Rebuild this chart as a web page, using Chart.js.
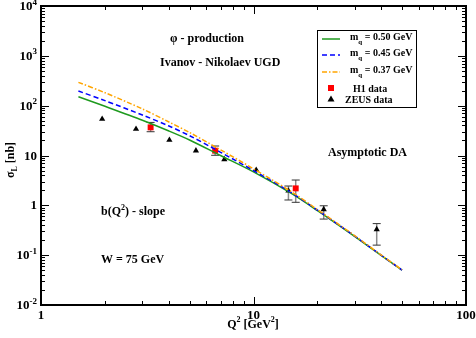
<!DOCTYPE html>
<html>
<head>
<meta charset="utf-8">
<script src="https://cdn.jsdelivr.net/npm/chart.js@4"></script>
<style>
  html, body { margin: 0; padding: 0; background: #fff; }
  canvas { display: block; }
</style>
</head>
<body>
<canvas id="chart" width="476" height="338"></canvas>
<script>
// theory curves, sigma_L [nb] vs Q^2 [GeV^2]
const q2 = [1.5, 2, 3, 4, 5, 7, 10, 15, 20, 30, 40, 50];
const mq050 = [151, 97, 51, 31, 20.5, 10.0, 4.7, 1.75, 0.78, 0.235, 0.098, 0.05];
const mq045 = [197, 126, 65, 39, 25, 11.6, 5.0, 1.82, 0.8, 0.24, 0.099, 0.05];
const mq037 = [294, 182, 86, 47, 29, 13, 5.4, 1.9, 0.82, 0.245, 0.1, 0.051];

// H1 data
const h1Q2 = [3.28, 6.6, 15.8];
const h1Sigma = [36.7, 12.5, 2.19];
const h1Lo = [30.0, 10.1, 1.15];
const h1Hi = [46.1, 15.5, 3.22];

// ZEUS data
const zeusQ2 = [1.94, 2.8, 4.02, 5.36, 7.29, 10.3, 14.6, 21.4, 38.0];
const zeusSigma = [53.9, 34.0, 20.4, 12.5, 8.38, 5.11, 1.96, 0.83, 0.33];
const zeusLo = [null, null, null, null, null, null, 1.28, 0.53, 0.159];
const zeusHi = [null, null, null, null, null, null, 2.44, 0.98, 0.43];

// tick labels
const yTickValues = [0.01, 0.1, 1, 10, 100, 1000, 10000];
const yTickBase = ['10', '10', '1', '10', '10', '10', '10'];
const yTickExp = ['-2', '-1', '', '', '2', '3', '4'];
const xTickValues = [1, 10, 100];
const xTickLabels = ['1', '10', '100'];

const legendNames = ['0.50 GeV', '0.45 GeV', '0.37 GeV', 'H1 data', 'ZEUS data'];

const SERIF = "'Liberation Serif', 'Times New Roman', serif";
const GREEN = '#1e9a1e', BLUE = '#0000ff', ORANGE = '#ffa500';

const pts = (xs, ys) => xs.map((x, i) => ({ x, y: ys[i] }));

function supText(ctx, base, sup, x, y, size, align) {
  ctx.font = `bold ${size}px ${SERIF}`;
  const wb = ctx.measureText(base).width;
  ctx.font = `bold ${Math.round(size * 0.7)}px ${SERIF}`;
  const ws = sup ? ctx.measureText(sup).width : 0;
  let x0 = x;
  if (align === 'right') x0 = x - wb - ws;
  if (align === 'center') x0 = x - (wb + ws) / 2;
  ctx.textAlign = 'left';
  ctx.textBaseline = 'alphabetic';
  ctx.font = `bold ${size}px ${SERIF}`;
  ctx.fillText(base, x0, y);
  if (sup) {
    ctx.font = `bold ${Math.round(size * 0.7)}px ${SERIF}`;
    ctx.fillText(sup, x0 + wb, y - size * 0.42);
  }
}

function drawErrBars(ctx, xs, ys, qs, lo, hi) {
  qs.forEach((q, i) => {
    if (lo[i] == null) return;
    const x = xs.getPixelForValue(q);
    const y1 = ys.getPixelForValue(lo[i]);
    const y2 = ys.getPixelForValue(hi[i]);
    ctx.strokeStyle = '#8a8a8a';
    ctx.lineWidth = 1.5;
    ctx.beginPath();
    ctx.moveTo(x, y1); ctx.lineTo(x, y2);
    ctx.stroke();
    ctx.strokeStyle = '#333';
    ctx.lineWidth = 1;
    ctx.beginPath();
    ctx.moveTo(x - 4, y1); ctx.lineTo(x + 4, y1);
    ctx.moveTo(x - 4, y2); ctx.lineTo(x + 4, y2);
    ctx.stroke();
  });
}

const frame = {
  id: 'frame',
  beforeDatasetsDraw(chart) {
    const { ctx, scales: { x, y } } = chart;
    ctx.save();
    drawErrBars(ctx, x, y, h1Q2, h1Lo, h1Hi);
    drawErrBars(ctx, x, y, zeusQ2, zeusLo, zeusHi);
    ctx.restore();
  },
  afterDraw(chart) {
    const { ctx, chartArea: a, scales: { x, y } } = chart;
    ctx.save();
    ctx.strokeStyle = '#000';
    ctx.fillStyle = '#000';

    // box
    ctx.lineWidth = 2;
    ctx.strokeRect(a.left, a.top, a.right - a.left, a.bottom - a.top);

    // ticks, inside on all four sides
    ctx.lineWidth = 1;
    ctx.beginPath();
    for (let e = -2; e <= 4; e++) {
      for (let m = 1; m <= 9; m++) {
        const v = m * Math.pow(10, e);
        if (v > 10000) break;
        const py = Math.round(y.getPixelForValue(v)) + 0.5;
        const len = m === 1 ? 8 : 4;
        ctx.moveTo(a.left, py); ctx.lineTo(a.left + len, py);
        ctx.moveTo(a.right, py); ctx.lineTo(a.right - len, py);
      }
    }
    for (let e = 0; e <= 2; e++) {
      for (let m = 1; m <= 9; m++) {
        const v = m * Math.pow(10, e);
        if (v > 100) break;
        const px = Math.round(x.getPixelForValue(v)) + 0.5;
        const len = m === 1 ? 8 : 4;
        ctx.moveTo(px, a.bottom); ctx.lineTo(px, a.bottom - len);
        ctx.moveTo(px, a.top); ctx.lineTo(px, a.top + len);
      }
    }
    ctx.stroke();

    // tick labels
    yTickValues.forEach((v, i) => {
      supText(ctx, yTickBase[i], yTickExp[i], a.left - 4, y.getPixelForValue(v) + 4, 13, 'right');
    });
    ctx.font = `bold 13px ${SERIF}`;
    ctx.textAlign = 'center';
    ctx.textBaseline = 'top';
    xTickValues.forEach((v, i) => {
      ctx.fillText(xTickLabels[i], x.getPixelForValue(v), a.bottom + 4);
    });

    // axis titles
    ctx.textBaseline = 'alphabetic';
    ctx.font = `bold 12px ${SERIF}`;
    const w1 = ctx.measureText('Q').width;
    const rest = ' [GeV', w2 = ctx.measureText(rest).width;
    ctx.font = `bold 8px ${SERIF}`;
    const ws = ctx.measureText('2').width;
    let tx = 253 - (w1 + ws + w2 + ws + ctx.measureText(']').width * 1.5) / 2;
    ctx.textAlign = 'left';
    ctx.font = `bold 12px ${SERIF}`;
    ctx.fillText('Q', tx, 328); tx += w1;
    ctx.font = `bold 8px ${SERIF}`;
    ctx.fillText('2', tx, 322); tx += ws;
    ctx.font = `bold 12px ${SERIF}`;
    ctx.fillText(rest, tx, 328); tx += w2;
    ctx.font = `bold 8px ${SERIF}`;
    ctx.fillText('2', tx, 322); tx += ws;
    ctx.font = `bold 12px ${SERIF}`;
    ctx.fillText(']', tx, 328);

    ctx.save();
    ctx.translate(14, 160);
    ctx.rotate(-Math.PI / 2);
    ctx.font = `bold 12px ${SERIF}`;
    const wsig = ctx.measureText('σ').width;
    ctx.font = `bold 8px ${SERIF}`;
    const wL = ctx.measureText('L').width;
    ctx.font = `bold 12px ${SERIF}`;
    const wnb = ctx.measureText(' [nb]').width;
    let sx = -(wsig + wL + wnb) / 2;
    ctx.fillText('σ', sx, 0); sx += wsig;
    ctx.font = `bold 8px ${SERIF}`;
    ctx.fillText('L', sx, 3); sx += wL;
    ctx.font = `bold 12px ${SERIF}`;
    ctx.fillText(' [nb]', sx, 0);
    ctx.restore();

    // annotations
    ctx.font = `bold 12px ${SERIF}`;
    ctx.textAlign = 'left';
    ctx.fillText('φ - production', 170, 42);
    ctx.fillText('Ivanov - Nikolaev UGD', 160, 66);
    ctx.fillText('Asymptotic DA', 328, 156);
    supText(ctx, 'b(Q', '2', 101, 215, 12, 'left');
    ctx.font = `bold 12px ${SERIF}`;
    const wbq = ctx.measureText('b(Q').width;
    ctx.font = `bold 8px ${SERIF}`;
    const w2s = ctx.measureText('2').width;
    ctx.font = `bold 12px ${SERIF}`;
    ctx.fillText(') - slope', 101 + wbq + w2s, 215);
    ctx.fillText('W = 75 GeV', 101, 263);

    // legend
    ctx.fillStyle = '#fff';
    ctx.fillRect(317, 30, 99, 77);
    ctx.lineWidth = 1;
    ctx.strokeStyle = '#000';
    ctx.strokeRect(317.5, 30.5, 99, 77);
    const rows = [39, 55, 72, 88, 99];
    const lineCols = [GREEN, BLUE, ORANGE];
    const dashes = [[], [5, 3], [5, 2, 1.5, 2]];
    for (let i = 0; i < 3; i++) {
      ctx.strokeStyle = lineCols[i];
      ctx.lineWidth = 1.5;
      ctx.setLineDash(dashes[i]);
      ctx.beginPath();
      ctx.moveTo(322, rows[i]); ctx.lineTo(340, rows[i]);
      ctx.stroke();
      ctx.setLineDash([]);
      ctx.fillStyle = '#000';
      ctx.font = `bold 10px ${SERIF}`;
      ctx.fillText('m', 350, rows[i] + 1);
      const wm = ctx.measureText('m').width;
      ctx.font = `bold 7px ${SERIF}`;
      ctx.fillText('q', 350 + wm, rows[i] + 5);
      const wq = ctx.measureText('q').width;
      ctx.font = `bold 10px ${SERIF}`;
      ctx.fillText(' = ' + legendNames[i], 350 + wm + wq, rows[i] + 1);
    }
    ctx.fillStyle = '#ff0000';
    ctx.fillRect(328, rows[3] - 3, 6, 6);
    ctx.fillStyle = '#000';
    ctx.beginPath();
    ctx.moveTo(331, rows[4] - 3.5);
    ctx.lineTo(334.5, rows[4] + 2.5);
    ctx.lineTo(327.5, rows[4] + 2.5);
    ctx.closePath();
    ctx.fill();
    ctx.font = `bold 10px ${SERIF}`;
    ctx.fillText(legendNames[3], 353, rows[3] + 4);
    ctx.fillText(legendNames[4], 345, rows[4] + 4);

    ctx.restore();
  },
};

const curve = (data, color, dash) => ({
  type: 'line',
  data,
  borderColor: color,
  borderWidth: 1.5,
  borderDash: dash,
  pointRadius: 0,
  fill: false,
  tension: 0.3,
});

new Chart(document.getElementById('chart'), {
  type: 'scatter',
  data: {
    datasets: [
      curve(pts(q2, mq037), ORANGE, [5, 2, 1.5, 2]),
      curve(pts(q2, mq045), BLUE, [5, 3]),
      curve(pts(q2, mq050), GREEN, []),
      {
        label: 'H1 data',
        data: pts(h1Q2, h1Sigma),
        pointStyle: 'rect',
        pointRadius: 4.2,
        backgroundColor: '#ff0000',
        borderColor: '#ff0000',
        borderWidth: 0,
      },
      {
        label: 'ZEUS data',
        data: pts(zeusQ2, zeusSigma),
        pointStyle: 'triangle',
        pointRadius: 3.6,
        backgroundColor: '#000',
        borderColor: '#000',
        borderWidth: 0,
      },
    ],
  },
  options: {
    responsive: false,
    animation: false,
    devicePixelRatio: 1,
    layout: { padding: { left: 41, right: 10, top: 6, bottom: 33 } },
    plugins: { legend: { display: false }, tooltip: { enabled: false } },
    scales: {
      x: { type: 'logarithmic', min: 1, max: 100, display: false },
      y: { type: 'logarithmic', min: 0.01, max: 10000, display: false },
    },
  },
  plugins: [frame],
});
</script>
</body>
</html>
